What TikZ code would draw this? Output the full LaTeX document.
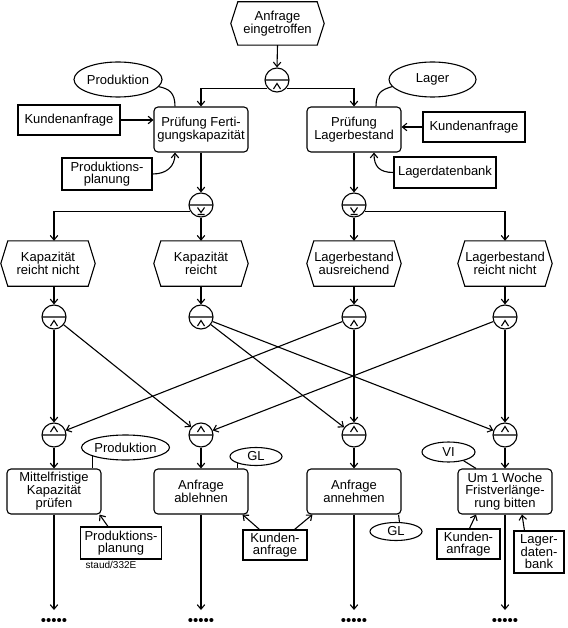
\documentclass[tikz,border=0pt]{standalone}
\usepackage{fontspec}
\setmainfont{Liberation Sans}
\usetikzlibrary{arrows.meta,calc,shapes.geometric}
\begin{document}
\begin{tikzpicture}[x=1pt,y=-1pt,
  every node/.style={font=\fontsize{13}{12}\selectfont, inner sep=0pt, align=center},
  lw/.style={line width=1.1pt},
  arr/.style={lw,-{Straight Barb[length=4.5pt,width=7.5pt]}},
  ln/.style={lw},
  func/.style={draw,lw,rounded corners=4pt,minimum width=94pt,minimum height=45pt},
  evt/.style={minimum width=80pt,minimum height=45pt},
  info/.style={draw,lw},
  org/.style={draw,lw,ellipse},
  opAndLow/.style={draw,lw,circle,minimum size=24pt,path picture={
    \draw[lw,shift={(path picture bounding box.center)}] (-12,0) -- (12,0) (-3.5,9) -- (0,3.5) -- (3.5,9);}},
  opAndHigh/.style={draw,lw,circle,minimum size=24pt,path picture={
    \draw[lw,shift={(path picture bounding box.center)}] (-12,0) -- (12,0) (-3.5,-3) -- (0,-8.5) -- (3.5,-3);}},
  opXor/.style={draw,lw,circle,minimum size=24pt,path picture={
    \draw[lw,shift={(path picture bounding box.center)}] (-12,0) -- (12,0) (-3.5,2.5) -- (0,7.5) -- (3.5,2.5) (-3.5,9.5) -- (3.5,9.5);}},
  dots/.style={font=\fontsize{15}{15}\selectfont, text height=6pt, text depth=0pt}
]
\useasboundingbox (0,0) rectangle (567,628);

% top
\node[evt,minimum width=79pt,minimum height=43pt] (st) at (277.5,23.5) {Anfrage\\eingetroffen};
\node[opAndLow] (top) at (277,80) {};
\node[func] (pf) at (201,129.5) {Prüfung Ferti-\\gungskapazität};
\node[func] (pl) at (354,129.5) {Prüfung\\Lagerbestand};
\node[org,minimum width=88pt,minimum height=35pt] (prodT) at (118,79.5) {Produktion};
\node[org,minimum width=87pt,minimum height=35pt] (lager) at (432.5,79.5) {Lager};
\node[info,minimum width=102pt,minimum height=30pt] (kaL) at (69,120) {Kundenanfrage};
\node[info,minimum width=90pt,minimum height=32pt] (ppT) at (107,174) {Produktions-\\planung};
\node[info,minimum width=102pt,minimum height=30pt] (kaR) at (474,127) {Kundenanfrage};
\node[info,minimum width=102pt,minimum height=31pt] (ldb) at (445,172.5) {Lagerdatenbank};

% xor
\node[opXor] (x1) at (201,205) {};
\node[opXor] (x2) at (354,205) {};

% events
\node[evt] (e1) at (48,263.5) {Kapazität\\reicht nicht};
\node[evt] (e2) at (201,263.5) {Kapazität\\reicht};
\node[evt] (e3) at (354,263.5) {Lagerbestand\\ausreichend};
\node[evt] (e4) at (505,263.5) {Lagerbestand\\reicht nicht};
\foreach \n in {st,e1,e2,e3,e4}
  \draw[lw] (\n.north west) -- (\n.north east) -- ([xshift=7pt]\n.east) -- (\n.south east)
    -- (\n.south west) -- ([xshift=-7pt]\n.west) -- cycle;

% operators
\node[opAndLow] (m1) at (54,317) {};
\node[opAndLow] (m2) at (201,317) {};
\node[opAndLow] (m3) at (354,317) {};
\node[opAndLow] (m4) at (505,317) {};
\node[opAndHigh] (b1) at (54,435) {};
\node[opAndHigh] (b2) at (201,435) {};
\node[opAndHigh] (b3) at (354,435) {};
\node[opAndHigh] (b4) at (505,435) {};

% functions
\node[func] (f1) at (54,491.5) {Mittelfristige\\Kapazität\\prüfen};
\node[func] (f2) at (201,491.5) {Anfrage\\ablehnen};
\node[func] (f3) at (354,491.5) {Anfrage\\annehmen};
\node[func] (f4) at (505,491.5) {Um 1 Woche\\Fristverlänge-\\rung bitten};

\node[org,minimum width=73pt,minimum height=25pt] (prodB) at (125.5,447.5) {Produktion};
\node[org,minimum width=52pt,minimum height=18pt] (glA) at (256,456.5) {GL};
\node[org,minimum width=53pt,minimum height=20pt] (vi) at (448.5,452) {VI};
\node[org,minimum width=52pt,minimum height=18pt] (glN) at (396,531.5) {GL};
\node[info,minimum width=81pt,minimum height=32pt] (ppB) at (121,543) {Produktions-\\planung};
\node[font=\fontsize{10}{10}\selectfont] (staud) at (111,565) {staud/332E};
\node[info,minimum width=64pt,minimum height=30pt] (kuM) at (275,545) {Kunden-\\anfrage};
\node[info,minimum width=63pt,minimum height=30pt] (kuR) at (468.5,544) {Kunden-\\anfrage};
\node[info,minimum width=50pt,minimum height=42pt] (ldB) at (539,552) {Lager-\\daten-\\bank};

\coordinate (z1) at (54,610);
\coordinate (z2) at (201,610);
\coordinate (z3) at (354,610);
\coordinate (z4) at (505,610);
\node[dots] (d1) at (54,622) {•••••};
\node[dots] (d2) at (201,622) {•••••};
\node[dots] (d3) at (354,622) {•••••};
\node[dots] (d4) at (505,622) {•••••};

% connectors top
\draw[arr] (st.south) -- (top.north);
\draw[arr] (top.220) -| (pf.north);
\draw[arr] (top.-40) -| (pl.north);
\draw[arr] (kaL.east) -- (kaL.east -| pf.west);
\draw[arr] (kaR.west) -- (kaR.west -| pl.east);
\draw[ln] (prodT.-10) .. controls +(10,2) and +(0,-14) .. ([xshift=-26pt]pf.north);
\draw[arr] (ppT.east) .. controls +(14,0) and +(0,14) .. ([xshift=-26pt]pf.south);
\draw[ln] (lager.190) .. controls +(-10,3) and +(0,-14) .. ([xshift=22pt]pl.north);
\draw[arr] (ldb.west) .. controls +(-14,0) and +(0,14) .. ([xshift=20pt]pl.south);
\draw[arr] (pf.south) -- (x1.north);
\draw[arr] (pl.south) -- (x2.north);
\draw[arr] (x1.210) -| ([xshift=6pt]e1.north);
\draw[arr] (x1.south) -- (e2.north);
\draw[arr] (x2.south) -- (e3.north);
\draw[arr] (x2.-30) -| (e4.north);
\draw[arr] ([xshift=6pt]e1.south) -- (m1.north);
\draw[arr] (e2.south) -- (m2.north);
\draw[arr] (e3.south) -- (m3.north);
\draw[arr] (e4.south) -- (m4.north);

% cross connections
\draw[arr] (m1) -- (b1);
\draw[arr] (m1) -- (b2);
\draw[arr] (m2) -- (b3);
\draw[arr] (m2) -- (b4);
\draw[arr] (m3) -- (b3);
\draw[arr] (m3) -- (b1);
\draw[arr] (m4) -- (b4);
\draw[arr] (m4) -- (b2);

% to functions
\draw[arr] (b1.south) -- (f1.north);
\draw[arr] (b2.south) -- (f2.north);
\draw[arr] (b3.south) -- (f3.north);
\draw[arr] (b4.south) -- (f4.north);
\draw[ln] (prodB.195) -- (prodB.195 |- f1.north);
\draw[ln] (glA.200) -- (glA.200 |- f2.north);
\draw[ln] (vi.-30) -- ([xshift=-29pt]f4.north);
\draw[ln] ([xshift=-3pt]f3.south east) -- (glN.70);
\draw[arr] ([xshift=28pt]ppB.north west) -- ([xshift=-2pt]f1.south east);
\draw[arr] ([xshift=17pt]kuM.north west) -- ([xshift=-6pt]f2.south east);
\draw[arr] ([xshift=-13pt]kuM.north east) -- ([xshift=6pt]f3.south west);
\draw[arr] ([xshift=33pt]kuR.north west) -- ([xshift=-29pt]f4.south);
\draw[arr] ([xshift=11pt]ldB.north west) -- ([xshift=17pt]f4.south);

% outgoing
\draw[arr] (f1.south) -- (z1);
\draw[arr] (f2.south) -- (z2);
\draw[arr] (f3.south) -- (z3);
\draw[arr] (f4.south) -- (z4);
\end{tikzpicture}
\end{document}
